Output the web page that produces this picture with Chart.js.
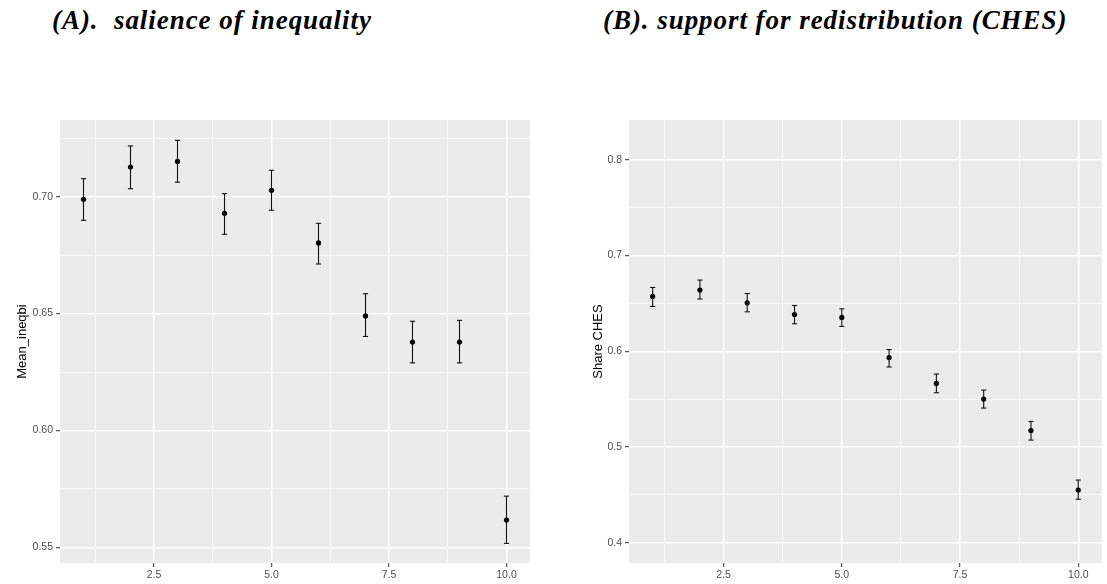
<!DOCTYPE html>
<html>
<head>
<meta charset="utf-8">
<script src="https://cdn.jsdelivr.net/npm/chart.js@4/dist/chart.umd.min.js"></script>
<style>
  html, body { margin: 0; padding: 0; background: #ffffff; }
  body { width: 1107px; height: 584px; position: relative; overflow: hidden; }
  .panel { position: absolute; top: 0; height: 584px; }
  .title {
    position: absolute; top: 5px;
    font-family: "Liberation Serif", serif; font-weight: bold; font-style: italic;
    font-size: 27px; letter-spacing: 0.95px; white-space: pre; color: #000;
  }
</style>
</head>
<body>
<div class="title" style="left:52px">(A).  salience of inequality</div>
<div class="title" style="left:603px">(B). support for redistribution (CHES)</div>
<div class="panel" style="left:0;width:560px"><canvas id="chartA"></canvas></div>
<div class="panel" style="left:560px;width:547px"><canvas id="chartB"></canvas></div>
<script>
// Groups on the x axis
const groups = [1, 2, 3, 4, 5, 6, 7, 8, 9, 10];

// Panel A: mean salience of inequality with confidence bounds
const meanIneqbi  = [0.6989, 0.7127, 0.7151, 0.6929, 0.7027, 0.6802, 0.6490, 0.6378, 0.6378, 0.5617];
const ineqbiLower = [0.6899, 0.7034, 0.7062, 0.6839, 0.6942, 0.6712, 0.6402, 0.6289, 0.6289, 0.5517];
const ineqbiUpper = [0.7077, 0.7217, 0.7241, 0.7013, 0.7113, 0.6886, 0.6585, 0.6467, 0.6471, 0.5719];

// Panel B: share supporting redistribution (CHES) with confidence bounds
const shareChes = [0.6572, 0.6639, 0.6506, 0.6384, 0.6353, 0.5934, 0.5664, 0.5501, 0.5173, 0.4552];
const chesLower = [0.6468, 0.6545, 0.6412, 0.6287, 0.6259, 0.5836, 0.5567, 0.5407, 0.5073, 0.4455];
const chesUpper = [0.6666, 0.6743, 0.6603, 0.6478, 0.6443, 0.6018, 0.5762, 0.5595, 0.5267, 0.4656];

// Tick values and labels
const xTickValues = [2.5, 5, 7.5, 10];
const xTickLabels = ['2.5', '5.0', '7.5', '10.0'];
const ineqTickValues = [0.55, 0.60, 0.65, 0.70];
const ineqTickLabels = ['0.55', '0.60', '0.65', '0.70'];
const chesTickValues = [0.4, 0.5, 0.6, 0.7, 0.8];
const chesTickLabels = ['0.4', '0.5', '0.6', '0.7', '0.8'];

// Grey panel background behind the grid
const panelBackground = {
  id: 'panelBackground',
  beforeDraw(chart) {
    const { ctx, chartArea: a } = chart;
    ctx.save();
    ctx.fillStyle = '#EBEBEB';
    ctx.fillRect(a.left, a.top, a.right - a.left, a.bottom - a.top);
    ctx.restore();
  }
};

// Major ticks plus minor ticks halfway between them (gridlines only)
function withMinor(majors, min, max) {
  const step = majors[1] - majors[0];
  const out = [];
  const first = majors[0] - step * Math.ceil((majors[0] - min) / step);
  for (let v = first - step / 2; v <= max + 1e-9; v += step / 2) {
    if (v >= min - 1e-9) {
      const isMajor = majors.some(m => Math.abs(m - v) < 1e-9);
      out.push({ value: v, minor: !isMajor });
    }
  }
  return out;
}

function labelFor(values, labels, v) {
  const i = values.findIndex(m => Math.abs(m - v) < 1e-9);
  return i >= 0 ? labels[i] : '';
}

function axisGrid() {
  return {
    color: '#FFFFFF',
    lineWidth: c => (c.tick && c.tick.minor) ? 0.7 : 1.4,
    tickColor: c => (c.tick && c.tick.minor) ? 'rgba(0,0,0,0)' : '#333333',
    tickLength: 4,
    tickWidth: 1
  };
}

function makePanel(id, opts) {
  const stems = groups.flatMap((x, i) => [
    { x, y: opts.lower[i] }, { x, y: opts.upper[i] }, { x, y: null }
  ]);
  const caps = groups.flatMap((x, i) => [
    { x, y: opts.lower[i] }, { x, y: opts.upper[i] }
  ]);
  const points = groups.map((x, i) => ({ x, y: opts.values[i] }));

  return new Chart(document.getElementById(id), {
    type: 'scatter',
    data: {
      datasets: [
        { data: points, pointRadius: 2.6, pointBackgroundColor: '#000', pointBorderWidth: 0 },
        { data: caps, pointStyle: 'line', pointRadius: 2.6, pointBorderColor: '#111', pointBorderWidth: 1.1 },
        { data: stems, showLine: true, spanGaps: false, borderColor: '#111', borderWidth: 1.1, pointRadius: 0 }
      ]
    },
    options: {
      responsive: true,
      maintainAspectRatio: false,
      animation: false,
      events: [],
      layout: { padding: { top: 120, right: opts.rightPad, bottom: 0, left: 0 } },
      plugins: { legend: { display: false }, tooltip: { enabled: false } },
      scales: {
        x: {
          type: 'linear', min: 0.5, max: 10.5,
          afterBuildTicks: s => { s.ticks = withMinor(xTickValues, 0.5, 10.5); },
          afterFit: s => { s.height = 21; },
          border: { display: false },
          grid: axisGrid(),
          ticks: {
            autoSkip: false, maxRotation: 0, padding: 2,
            color: '#4D4D4D', font: { family: 'Liberation Sans', size: 10.5 },
            callback: v => labelFor(xTickValues, xTickLabels, v)
          }
        },
        y: {
          type: 'linear', min: opts.yMin, max: opts.yMax,
          afterBuildTicks: s => { s.ticks = withMinor(opts.tickValues, opts.yMin, opts.yMax); },
          afterFit: s => { s.width = opts.axisWidth; },
          border: { display: false },
          grid: axisGrid(),
          title: {
            display: true, text: opts.title, color: '#000',
            font: { family: 'Liberation Sans', size: 13 },
            padding: { top: opts.titlePad, bottom: 0 }
          },
          ticks: {
            autoSkip: false, padding: 3,
            color: '#4D4D4D', font: { family: 'Liberation Sans', size: 10.5 },
            callback: v => labelFor(opts.tickValues, opts.tickLabels, v)
          }
        }
      }
    },
    plugins: [panelBackground]
  });
}

makePanel('chartA', {
  values: meanIneqbi, lower: ineqbiLower, upper: ineqbiUpper,
  yMin: 0.5433, yMax: 0.7328,
  tickValues: ineqTickValues, tickLabels: ineqTickLabels,
  title: 'Mean_ineqbi', titlePad: 15, axisWidth: 60, rightPad: 30
});

makePanel('chartB', {
  values: shareChes, lower: chesLower, upper: chesUpper,
  yMin: 0.379, yMax: 0.8414,
  tickValues: chesTickValues, tickLabels: chesTickLabels,
  title: 'Share CHES', titlePad: 31, axisWidth: 69, rightPad: 1
});
</script>
</body>
</html>
